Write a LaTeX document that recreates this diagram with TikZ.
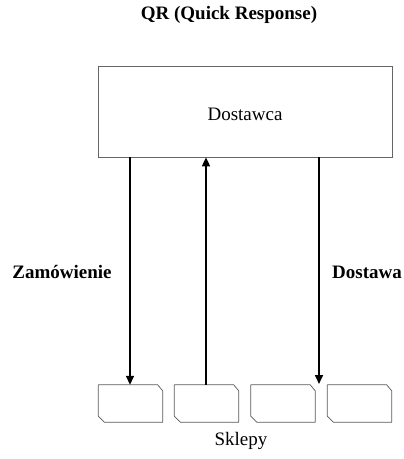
\documentclass[tikz,border=0pt]{standalone}
\usepackage{fontspec}
\setmainfont{Liberation Serif}
\usetikzlibrary{arrows.meta}

\begin{document}
\begin{tikzpicture}[x=1pt,y=-1pt,font=\fontsize{19}{22}\selectfont,
    shopbox/.style={minimum width=64pt,minimum height=37pt,inner sep=0pt},
    flow/.style={line width=1.6pt,-{Triangle[length=9pt,width=8pt]}}]
          %\draw[very thin,lightgray] (0,0) grid[step=20] (404,459);
          \useasboundingbox (0,0) rectangle (404,459);
          \node[font=\fontsize{19}{22}\selectfont\bfseries] (title) at (229,15) {QR (Quick Response)};
          \node[draw=gray!80!black,line width=0.7pt,minimum width=294pt,minimum height=91pt,inner sep=0pt] (dostawca) at (245,111.5) {};
          \node (dlabel) at (245,114) {Dostawca};
          \node[shopbox] (shop1) at (130.5,403.5) {};
          \node[shopbox] (shop2) at (206.5,403.5) {};
          \node[shopbox] (shop3) at (283,403.5) {};
          \node[shopbox] (shop4) at (359.5,403.5) {};
          \foreach \s in {shop1,shop2,shop3,shop4}
            \draw[gray!70!black,line width=0.7pt,line join=round] (\s.north west) -- ([xshift=-5pt]\s.north east) -- %
            ([yshift=-6pt]\s.north east) -- (\s.south east) -- ([xshift=6pt]\s.south west) -- %
            ([yshift=6pt]\s.south west) -- cycle;
          \node (sklepy) at (241,441) {Sklepy};
          \node[font=\fontsize{19}{22}\selectfont\bfseries] (zam) at (62,272) {Zamówienie};
          \node[font=\fontsize{19}{22}\selectfont\bfseries] (dost) at (367,272) {Dostawa};
          \coordinate (a1) at (130,157);
          \coordinate (a3) at (319,157);
          \coordinate (e3) at (319,384);
          \draw[flow] (a1) -- (a1 |- shop1.north);
          \draw[flow] (shop2.north -| 206,0) -- (dostawca.south -| 206,0);
          \draw[flow] (a3) -- (e3);
        \end{tikzpicture}
\end{document}
